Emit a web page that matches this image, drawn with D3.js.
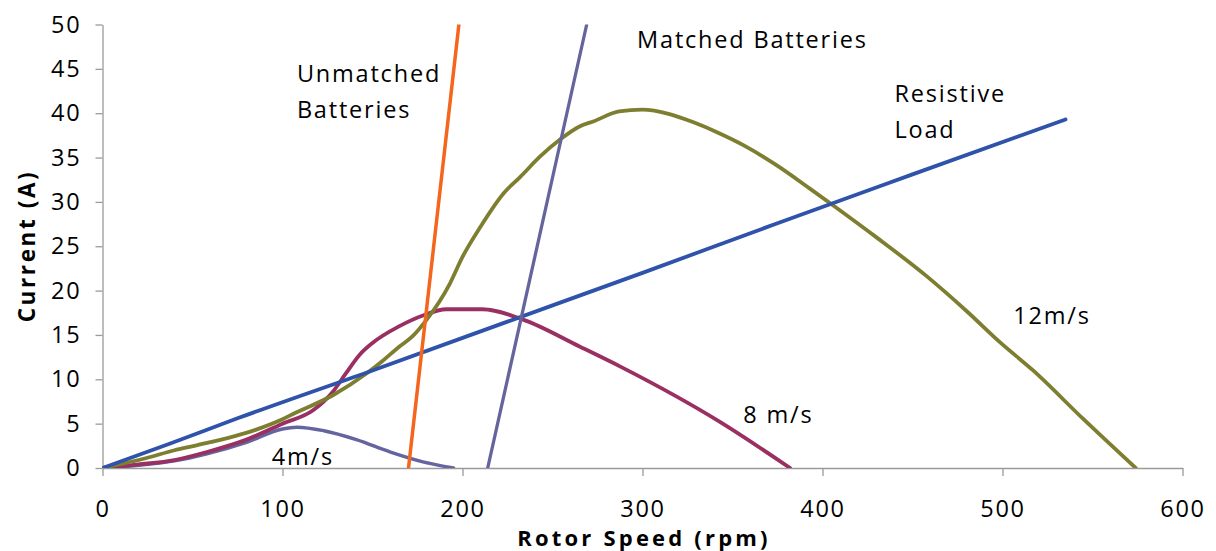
<!DOCTYPE html>
<html>
<head>
<meta charset="utf-8">
<script src="https://cdn.jsdelivr.net/npm/d3@7"></script>
<style>
  html, body { margin: 0; padding: 0; background: #fff; }
  svg { display: block; }
  text { font-family: "Open Sans", "Liberation Sans", sans-serif; fill: #000; }
</style>
</head>
<body>
<svg id="chart" width="1216" height="551"></svg>
<script>
// ---------- data ----------
const xTicks = [0, 100, 200, 300, 400, 500, 600];
const yTicks = [0, 5, 10, 15, 20, 25, 30, 35, 40, 45, 50];

const resistiveX = [0, 38, 75, 150, 225, 300, 375, 450, 535];
const resistiveY = [0, 2.8, 5.6, 11.0, 16.5, 22.0, 27.6, 33.1, 39.3];

const unmatchedX = [170, 198];
const unmatchedY = [0, 50];

const matchedX = [214, 269];
const matchedY = [0, 50];

const w4X = [0, 20, 40, 58, 80, 100, 108, 123, 141, 160, 178, 195];
const w4Y = [0, 0.3, 0.8, 1.6, 2.9, 4.4, 4.6, 4.2, 3.2, 1.8, 0.7, 0];

const w8X = [0, 20, 40, 58, 80, 100, 117, 128, 135, 143, 150, 165, 178, 191, 211, 234, 265, 288, 343, 382];
const w8Y = [0, 0.4, 0.9, 1.8, 3.2, 5.0, 6.5, 8.6, 10.6, 12.8, 14.1, 16.0, 17.2, 17.9, 17.9, 16.7, 13.7, 11.4, 5.2, 0];

const w12X = [0, 24, 40, 51, 85, 100, 107, 128, 147, 154, 165, 172, 180, 193, 200, 210, 223, 232, 243, 254, 265, 273, 287, 300, 315, 328, 342, 356, 374, 393, 406, 430, 458, 480, 499, 517, 545, 574];
const w12Y = [0, 1.1, 2.0, 2.5, 4.3, 5.5, 6.2, 8.2, 10.7, 11.8, 13.7, 14.8, 16.7, 20.8, 23.8, 27.2, 31.0, 32.8, 35.1, 37.0, 38.5, 39.1, 40.2, 40.4, 39.9, 39.0, 37.8, 36.4, 34.2, 31.5, 29.6, 26.0, 21.6, 17.7, 14.1, 11.0, 5.5, 0];

const labelTexts = {
  unmatched: ["Unmatched", "Batteries"],
  matched: ["Matched Batteries"],
  resistive: ["Resistive", "Load"],
  w12: ["12m/s"], w8: ["8 m/s"], w4: ["4m/s"]
};
// label anchor points in data units
const labelPos = {
  unmatched: [108, 43.5], matched: [297, 47.3], resistive: [440, 41.3],
  w12: [506, 16.2], w8: [356, 5.1], w4: [94, 0.3]
};
const lineGap = 36; // px between label lines

// ---------- layout ----------
const svg = d3.select("#chart");
const x = d3.scaleLinear().domain([0, 600]).range([102.5, 1182.5]);
const y = d3.scaleLinear().domain([0, 50]).range([468, 24.5]);

svg.append("defs").append("clipPath").attr("id", "plot")
  .append("rect").attr("x", x(0)).attr("y", y(50)).attr("width", x(600) - x(0)).attr("height", y(0) - y(50));

// axes
const axisColor = "#9a9a9a";
const yAxis = svg.append("g").attr("transform", `translate(${x(0)},0)`)
  .call(d3.axisLeft(y).tickValues(yTicks).tickSize(7).tickPadding(14).tickSizeOuter(0));
const xAxis = svg.append("g").attr("transform", `translate(0,${y(0)})`)
  .call(d3.axisBottom(x).tickValues(xTicks).tickSize(8).tickPadding(24).tickSizeOuter(0));
[yAxis, xAxis].forEach(g => {
  g.selectAll("path.domain").attr("stroke", axisColor).attr("stroke-width", 1.3);
  g.selectAll(".tick line").attr("stroke", axisColor).attr("stroke-width", 1.3);
  g.selectAll(".tick text").attr("font-size", 23.5).attr("font-family", "Open Sans, sans-serif").attr("fill", "#000").attr("letter-spacing", 1.8);
});

// axis titles
svg.append("text").attr("x", 644).attr("y", 546).attr("text-anchor", "middle")
  .attr("font-size", 22).attr("font-weight", "bold").attr("letter-spacing", 3.2).text("Rotor Speed (rpm)");
svg.append("text").attr("transform", "translate(35,246) rotate(-90)").attr("text-anchor", "middle")
  .attr("font-size", 22.5).attr("font-weight", "bold").attr("letter-spacing", 2.6).text("Current (A)");

// series
const series = [
  {xs: w4X, ys: w4Y, color: "#6464A0", w: 3.4},
  {xs: w8X, ys: w8Y, color: "#9A2F62", w: 3.8},
  {xs: w12X, ys: w12Y, color: "#7E7E31", w: 3.8},
  {xs: resistiveX, ys: resistiveY, color: "#2F52AA", w: 3.8},
  {xs: unmatchedX, ys: unmatchedY, color: "#F4661E", w: 3.5},
  {xs: matchedX, ys: matchedY, color: "#65659E", w: 3.3}
];
const line = d3.line().x(d => x(d[0])).y(d => y(d[1])).curve(d3.curveMonotoneX);
const lineLin = d3.line().x(d => x(d[0])).y(d => y(d[1]));
const plot = svg.append("g").attr("clip-path", "url(#plot)");
series.forEach(s => {
  const pts = s.xs.map((v, i) => [v, s.ys[i]]);
  plot.append("path").attr("d", (s.xs.length > 2 ? line : lineLin)(pts))
    .attr("fill", "none").attr("stroke", s.color).attr("stroke-width", s.w)
    .attr("stroke-linejoin", "round").attr("stroke-linecap", "round");
});

// labels
Object.keys(labelTexts).forEach(k => {
  const [lx, ly] = labelPos[k];
  labelTexts[k].forEach((t, i) => {
    svg.append("text").attr("x", x(lx)).attr("y", y(ly) + i * lineGap)
      .attr("font-size", 23.5).attr("letter-spacing", 1.8).text(t);
  });
});
</script>
</body>
</html>
